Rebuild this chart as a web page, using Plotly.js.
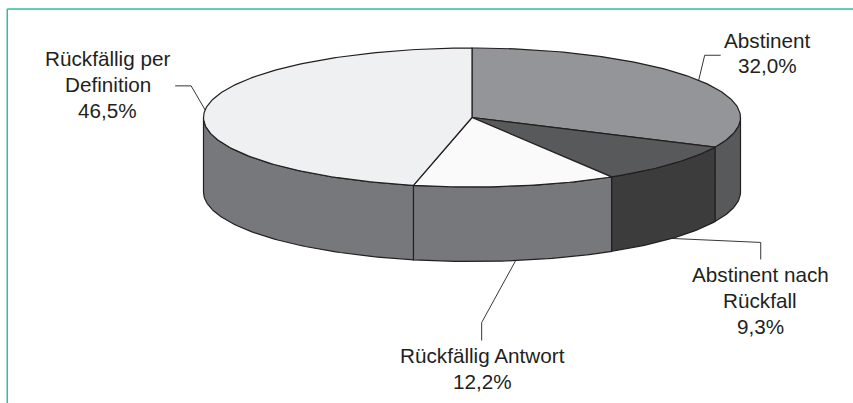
<!DOCTYPE html>
<html lang="de">
<head>
<meta charset="utf-8">
<script src="https://cdn.plot.ly/plotly-3.0.1.min.js"></script>
<style>
  html, body { margin: 0; padding: 0; background: #ffffff; }
  #chart { width: 853px; height: 403px; }
</style>
</head>
<body>
<div id="chart"></div>
<script>
// Ausgang nach Behandlung: Anteile in Prozent, im Uhrzeigersinn ab 12 Uhr
const categories = ["Abstinent", "Abstinent nach Rückfall", "Rückfällig Antwort", "Rückfällig per Definition"];
const shares = [32.0, 9.3, 12.2, 46.5];
const labelLines = [
  ["Abstinent", "32,0%"],
  ["Abstinent nach", "Rückfall", "9,3%"],
  ["Rückfällig Antwort", "12,2%"],
  ["Rückfällig per", "Definition", "46,5%"]
];
const topColors = ["#939598", "#58595b", "#fafafa", "#eff0f2"];
const sideColors = ["#58595b", "#3c3c3d", "#77787b", "#77787b"];

// Scheibengeometrie im Pixelraster der Achsen
const disc = { cx: 472, cy: 117.5, rx: 268.5, ry: 69.5, depth: 74.5 };
const ink = "#231f20";

// Textmitte der ersten Zeile je Beschriftung
const labelAnchor = [[767.5, 40.5], [760, 274.5], [482, 355.5], [107.5, 58.5]];
const lineStep = [25, 26, 26, 26];
// Knicke der Führungslinien als Versatz vom Ansatzpunkt auf dem Rand
const leaderBends = [
  [[6, -25], [22, -25]],
  [[89, 4], [89, 21]],
  [[-34, 62], [-34, 80]],
  [[-14, -24], [-30, -24]]
];

const rad = d => d * Math.PI / 180;
const rimPoint = (deg, drop) => [
  disc.cx + disc.rx * Math.sin(rad(deg)),
  disc.cy - disc.ry * Math.cos(rad(deg)) + drop
];

function arc(from, to, drop) {
  const n = Math.max(2, Math.ceil(Math.abs(to - from)));
  const pts = [];
  for (let i = 0; i <= n; i++) pts.push(rimPoint(from + (to - from) * i / n, drop));
  return pts;
}

function polygon(pts, color) {
  return {
    type: "scatter", mode: "lines", hoverinfo: "skip", showlegend: false,
    x: pts.map(p => p[0]), y: pts.map(p => p[1]),
    fill: "toself", fillcolor: color,
    line: { color: ink, width: 1.2 }
  };
}

// Winkelgrenzen der Segmente aus den Anteilen
const bounds = [0];
shares.forEach(s => bounds.push(bounds[bounds.length - 1] + s * 3.6));

const traces = [];
// Mantelflächen: nur die vordere Hälfte (90° bis 270°) ist sichtbar
shares.forEach((s, i) => {
  const a = Math.max(bounds[i], 90), b = Math.min(bounds[i + 1], 270);
  if (b <= a) return;
  const pts = arc(a, b, 0).concat(arc(b, a, disc.depth));
  pts.push(pts[0]);
  traces.push(polygon(pts, sideColors[i]));
});
// Deckflächen
shares.forEach((s, i) => {
  const pts = [[disc.cx, disc.cy]].concat(arc(bounds[i], bounds[i + 1], 0));
  pts.push([disc.cx, disc.cy]);
  traces.push(polygon(pts, topColors[i]));
});
// Führungslinien, angesetzt in der Segmentmitte
shares.forEach((s, i) => {
  const mid = (bounds[i] + bounds[i + 1]) / 2;
  const front = mid > 90 && mid < 270;
  const start = rimPoint(mid, front ? disc.depth : 0);
  const pts = [start].concat(leaderBends[i].map(o => [start[0] + o[0], start[1] + o[1]]));
  traces.push({
    type: "scatter", mode: "lines", hoverinfo: "skip", showlegend: false,
    x: pts.map(p => p[0]), y: pts.map(p => p[1]),
    line: { color: ink, width: 0.9 }
  });
});

// Beschriftungen zeilenweise, damit der Zeilenabstand stimmt
const annotations = [];
labelLines.forEach((lines, i) => {
  lines.forEach((text, k) => {
    annotations.push({
      xref: "x", yref: "y", x: labelAnchor[i][0], y: labelAnchor[i][1] + k * lineStep[i],
      text, showarrow: false, xanchor: "center", yanchor: "middle",
      font: { family: "Liberation Sans, Arial, sans-serif", size: 20.7, color: ink }
    });
  });
});

// Rahmen: oben und links in Türkis, rechts und unten offen
const frame = [
  { type: "line", xref: "x", yref: "y", x0: 7.25, y0: 9, x1: 853, y1: 9, line: { color: "#2fbf9f", width: 1.5 } },
  { type: "line", xref: "x", yref: "y", x0: 7.25, y0: 9, x1: 7.25, y1: 403, line: { color: "#2fbf9f", width: 1.5 } }
];

const hidden = { visible: false, fixedrange: true };
Plotly.newPlot("chart", traces, {
  width: 853, height: 403,
  margin: { l: 0, r: 0, t: 0, b: 0 },
  paper_bgcolor: "#ffffff", plot_bgcolor: "#ffffff",
  showlegend: false,
  xaxis: Object.assign({ range: [0, 853] }, hidden),
  yaxis: Object.assign({ range: [403, 0] }, hidden),
  annotations,
  shapes: frame
}, { displayModeBar: false, staticPlot: true });
</script>
</body>
</html>
